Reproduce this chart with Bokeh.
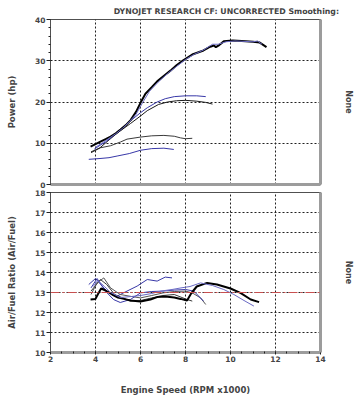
from bokeh.plotting import figure
from bokeh.layouts import column
from bokeh.models import LinearAxis, FixedTicker, Span, Range1d, Title
from bokeh.embed import file_html
from bokeh.resources import INLINE

# ---------------- data ----------------
title_text = "DYNOJET RESEARCH  CF: UNCORRECTED  Smoothing:"
x_ticks = [2, 4, 6, 8, 10, 12, 14]
hp_ticks = [0, 10, 20, 30, 40]
afr_ticks = [10, 11, 12, 13, 14, 15, 16, 17, 18]
afr_target = 13

# Power runs (RPM x1000, hp)
rpm_p1 = [3.78, 4.0, 4.22, 4.45, 4.67, 4.9, 5.11, 5.35, 5.56, 5.8, 6.0, 6.22, 6.5, 6.74, 7.1, 7.33,
          7.6, 7.9, 8.3, 8.8, 9.1, 9.26, 9.35, 9.5, 9.7, 10.1, 10.5, 11.0, 11.3, 11.6]
hp_p1 = [9.2, 9.8, 10.4, 11.0, 11.6, 12.4, 13.3, 14.4, 15.6, 17.6, 19.8, 22.0, 23.6, 25.0, 26.6, 27.6,
         28.9, 30.1, 31.5, 32.5, 33.4, 33.7, 33.3, 33.8, 34.7, 34.9, 34.8, 34.6, 34.4, 33.3]

rpm_p2 = [4.0, 4.3, 4.6, 4.9, 5.2, 5.5, 5.8, 6.1, 6.4, 6.8, 7.2, 7.6, 8.0, 8.4, 8.8, 9.2, 9.45,
          9.8, 10.2, 10.6, 11.0, 11.2, 11.4]
hp_p2 = [9.0, 10.1, 11.2, 12.3, 13.6, 15.2, 17.0, 19.9, 22.6, 24.9, 26.9, 28.6, 30.3, 31.6, 32.6, 34.0,
         34.0, 34.6, 34.8, 34.7, 34.6, 34.8, 34.0]

rpm_p3 = [3.95, 4.2, 4.44, 4.8, 5.11, 5.5, 6.0, 6.3, 6.74, 7.1, 7.5, 8.0, 8.5, 8.9]
hp_p3 = [8.6, 9.5, 10.3, 11.8, 13.2, 15.2, 17.4, 18.6, 20.0, 20.8, 21.3, 21.5, 21.5, 21.3]

rpm_p4 = [3.8, 4.2, 4.6, 5.0, 5.56, 6.0, 6.3, 6.8, 7.2, 7.6, 8.0, 8.5, 8.9, 9.2]
hp_p4 = [7.9, 8.9, 10.8, 12.6, 14.8, 16.6, 17.9, 19.4, 20.0, 20.3, 20.4, 20.2, 19.9, 19.5]

rpm_p5 = [3.8, 4.22, 4.67, 5.11, 5.4, 6.0, 6.5, 7.04, 7.5, 7.78, 8.0, 8.3]
hp_p5 = [7.7, 8.9, 9.4, 10.3, 11.0, 11.5, 11.8, 11.9, 11.7, 11.3, 11.1, 11.2]

rpm_p6 = [3.7, 4.2, 4.6, 4.96, 5.5, 6.0, 6.5, 7.04, 7.48]
hp_p6 = [6.1, 6.3, 6.5, 6.9, 7.5, 8.3, 8.7, 8.8, 8.5]

# Air/Fuel ratio runs (RPM x1000, AFR)
rpm_a1 = [3.78, 4.0, 4.1, 4.25, 4.45, 4.74, 5.0, 5.26, 5.55, 6.0, 6.44, 6.74, 7.1, 7.5, 7.78, 8.07,
          8.25, 8.5, 8.96, 9.4, 10.0, 10.44, 10.9, 11.27]
afr_a1 = [12.65, 12.68, 12.9, 13.2, 13.1, 12.9, 12.75, 12.68, 12.6, 12.55, 12.65, 12.77, 12.8, 12.75,
          12.68, 12.6, 12.95, 13.3, 13.48, 13.4, 13.2, 12.98, 12.65, 12.52]

rpm_a2 = [3.9, 4.1, 4.4, 4.67, 5.1, 5.6, 6.0, 6.5, 6.9, 7.4, 7.8, 8.2, 8.67, 9.2, 9.7, 10.15, 10.6, 11.04]
afr_a2 = [13.3, 13.6, 13.3, 13.0, 12.75, 12.8, 12.85, 12.95, 13.07, 13.15, 13.23, 13.3, 13.48, 13.35,
          13.15, 12.9, 12.6, 12.32]

rpm_a3 = [3.8, 4.07, 4.44, 4.8, 5.1, 5.55, 6.0, 6.5, 7.0, 7.5, 8.0, 8.37, 8.8]
afr_a3 = [13.23, 13.7, 13.07, 12.65, 12.5, 12.65, 12.98, 13.05, 13.07, 13.12, 13.15, 13.07, 12.57]

rpm_a4 = [3.8, 4.07, 4.37, 4.67, 5.1, 5.6, 6.0, 6.5, 7.0, 7.5, 8.0, 8.3, 8.67, 8.9]
afr_a4 = [12.9, 13.48, 13.73, 13.23, 12.9, 12.8, 12.73, 12.85, 12.98, 13.05, 13.07, 12.98, 12.73, 12.4]

rpm_a5 = [3.8, 4.22, 4.5, 4.85, 5.55, 6.0, 6.5, 7.0, 7.5, 8.07, 8.3]
afr_a5 = [13.07, 13.65, 13.4, 12.9, 12.57, 12.6, 12.73, 12.85, 12.9, 12.65, 12.57]

rpm_a6 = [3.7, 4.0, 4.5, 4.96, 5.4, 5.85, 6.3, 6.74, 7.1, 7.4]
afr_a6 = [13.4, 13.7, 13.07, 12.82, 13.07, 13.32, 13.65, 13.57, 13.77, 13.73]

# ---------------- styling ----------------
FONT = "DejaVu Sans"
BLUE = "#3838a8"
BLUE_LIGHT = "#6a6ac4"
SHADOW = "#9c9c9c"
FRAME = "#505050"
W = 363


def base_fig(height, y0, y1, top, bottom):
    p = figure(width=W, height=height, x_range=Range1d(2, 14), y_range=Range1d(y0, y1),
               output_backend="svg", toolbar_location=None,
               min_border_left=50, min_border_right=43, min_border_top=top, min_border_bottom=bottom)
    p.outline_line_color = FRAME
    p.outline_line_width = 1
    p.background_fill_color = "white"
    p.border_fill_color = "white"
    p.xgrid.ticker = FixedTicker(ticks=x_ticks[1:-1])
    for g in (p.xgrid, p.ygrid):
        g.grid_line_color = "#202020"
        g.grid_line_dash = "2 2"
        g.grid_line_width = 1
    yax = p.yaxis[0]
    yax.axis_line_color = FRAME
    yax.major_tick_out = 4
    yax.major_tick_in = 0
    yax.minor_tick_out = 2
    yax.minor_tick_in = 0
    yax.major_tick_line_color = "#202020"
    yax.minor_tick_line_color = "#202020"
    yax.major_label_text_font = FONT
    yax.major_label_text_font_style = "bold"
    yax.major_label_text_font_size = "7.5px"
    yax.major_label_standoff = 1
    yax.axis_label_text_font = FONT
    yax.axis_label_text_font_style = "bold"
    yax.axis_label_text_font_size = "8.5px"
    yax.axis_label_standoff = 15
    # right side: shadow + "None" label
    rax = LinearAxis(ticker=FixedTicker(ticks=[]), axis_label="None")
    rax.axis_line_color = SHADOW
    rax.axis_line_width = 3
    rax.axis_label_text_font = FONT
    rax.axis_label_text_font_style = "bold"
    rax.axis_label_text_font_size = "8px"
    rax.axis_label_standoff = 23
    rax.major_label_text_font_size = "0px"
    p.add_layout(rax, "right")
    return p


# ---------------- power panel ----------------
p1 = base_fig(188, 0, 40, 19, 4)
p1.yaxis[0].ticker = FixedTicker(ticks=hp_ticks, minor_ticks=list(range(0, 41, 2)))
p1.yaxis[0].axis_label = "Power (hp)"
p1.ygrid.ticker = FixedTicker(ticks=hp_ticks[1:-1])
xa1 = p1.xaxis[0]
xa1.ticker = FixedTicker(ticks=[])
xa1.axis_line_color = SHADOW
xa1.axis_line_width = 3
xa1.major_label_text_font_size = "0px"
xa1.major_tick_out = 0
xa1.major_tick_in = 0

p1.add_layout(Title(text=title_text, align="right", text_font=FONT, text_font_style="bold",
                    text_font_size="7.8px", offset=-24, standoff=7), "above")

p1.line(rpm_p6, hp_p6, line_color=BLUE, line_width=1)
p1.line(rpm_p5, hp_p5, line_color="#3a3a3a", line_width=1)
p1.line(rpm_p4, hp_p4, line_color="#1a1a1a", line_width=1)
p1.line(rpm_p3, hp_p3, line_color=BLUE, line_width=1)
p1.line(rpm_p1, hp_p1, line_color="black", line_width=2)
p1.line(rpm_p2, hp_p2, line_color=BLUE_LIGHT, line_width=1)

# ---------------- AFR panel ----------------
p2 = base_fig(212, 10, 18, 4, 48)
p2.yaxis[0].ticker = FixedTicker(ticks=afr_ticks, minor_ticks=[10 + 0.5 * i for i in range(17)])
p2.yaxis[0].axis_label = "Air/Fuel Ratio (Air/Fuel)"
p2.ygrid.ticker = FixedTicker(ticks=afr_ticks[1:-1])
xa2 = p2.xaxis[0]
xa2.ticker = FixedTicker(ticks=x_ticks, minor_ticks=[2 + 0.5 * i for i in range(25)])
xa2.axis_line_color = SHADOW
xa2.axis_line_width = 3
xa2.major_tick_out = 2
xa2.major_tick_in = 1
xa2.minor_tick_out = 1
xa2.minor_tick_in = 1
xa2.major_tick_line_color = "#202020"
xa2.minor_tick_line_color = "#202020"
xa2.major_label_text_font = FONT
xa2.major_label_text_font_style = "bold"
xa2.major_label_text_font_size = "7.5px"
xa2.major_label_standoff = 1
xa2.axis_label = "Engine Speed (RPM x1000)"
xa2.axis_label_text_font = FONT
xa2.axis_label_text_font_style = "bold"
xa2.axis_label_text_font_size = "8.5px"
xa2.axis_label_standoff = 20

p2.add_layout(Span(location=afr_target, dimension="width", line_color="#c85050",
                   line_dash="9 3 2 3", line_width=1))

p2.line(rpm_a6, afr_a6, line_color=BLUE, line_width=1)
p2.line(rpm_a5, afr_a5, line_color="#3a3a3a", line_width=1)
p2.line(rpm_a4, afr_a4, line_color="#555555", line_width=1)
p2.line(rpm_a3, afr_a3, line_color=BLUE, line_width=1)
p2.line(rpm_a1, afr_a1, line_color="black", line_width=2)
p2.line(rpm_a2, afr_a2, line_color=BLUE_LIGHT, line_width=1)

layout = column(p1, p2, spacing=0)
open("out.html", "w").write(file_html(layout, INLINE))
